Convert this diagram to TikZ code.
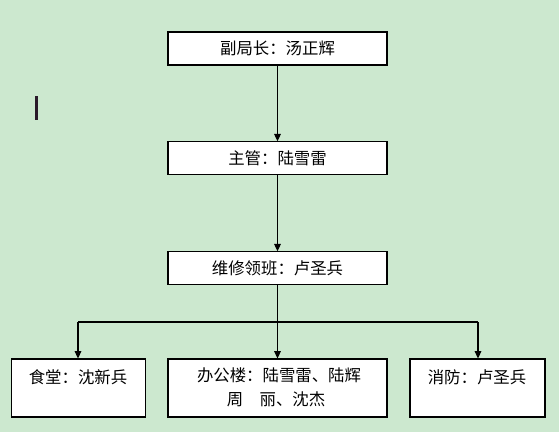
\documentclass[tikz,border=0pt]{standalone}
\usepackage{fontspec}
\newfontfamily\cjk{Noto Sans CJK SC}
\usetikzlibrary{arrows.meta}
\definecolor{bg}{RGB}{204,232,207}
\definecolor{barc}{RGB}{42,26,42}
\begin{document}
\begin{tikzpicture}[x=0.75pt,y=-0.75pt,
  box/.style={draw=black,fill=white,line width=0.8pt,inner sep=0pt},
  txt/.style={inner sep=0pt,font=\cjk\fontsize{12.3}{18}\selectfont,align=center},
  arr/.style={line width=0.8pt,-{Triangle[length=5.5pt,width=5pt]}},
  ln/.style={line width=0.8pt}]
\fill[bg] (0,0) rectangle (559,432);
\useasboundingbox (0,0) rectangle (559,432);
% top boxes
\node[box,minimum width=219*0.75pt,minimum height=33*0.75pt] (b1) at (277.5,48.5) {};
\node[txt] (t1) at (b1.center) {副局长：汤正辉};
\node[box,minimum width=219*0.75pt,minimum height=33*0.75pt] (b2) at (277.5,158.3) {};
\node[txt] (t2) at (b2.center) {主管：陆雪雷};
\node[box,minimum width=219*0.75pt,minimum height=33*0.75pt] (b3) at (277.5,268.3) {};
\node[txt] (t3) at (b3.center) {维修领班：卢圣兵};
% bottom boxes
\node[box,minimum width=134*0.75pt,minimum height=58*0.75pt] (b4) at (78.5,388) {};
\node[txt] (t4) at (78,377.5) {食堂：沈新兵};
\node[box,minimum width=219*0.75pt,minimum height=58*0.75pt] (b5) at (277.5,388) {};
\node[txt] (t5a) at (279,375.5) {办公楼：陆雪雷、陆辉};
\node[txt] (t5b) at (276,399.5) {周　丽、沈杰};
\node[box,minimum width=135*0.75pt,minimum height=58*0.75pt] (b6) at (477.5,388) {};
\node[txt] (t6) at (477,377.5) {消防：卢圣兵};
% connectors
\draw[arr] (b1.south) -- (b2.north);
\draw[arr] (b2.south) -- (b3.north);
\draw[arr] (b3.south) -- (b5.north);
\coordinate (jl) at (78,322);
\coordinate (jr) at (478,322);
\draw[ln] (jl) -- (jr);
\draw[arr] (jl) -- (jl |- b4.north);
\draw[arr] (jr) -- (jr |- b6.north);
% stray bar
\draw[barc,line width=1.6pt] (36.5,96) -- (36.5,120);
\end{tikzpicture}
\end{document}
